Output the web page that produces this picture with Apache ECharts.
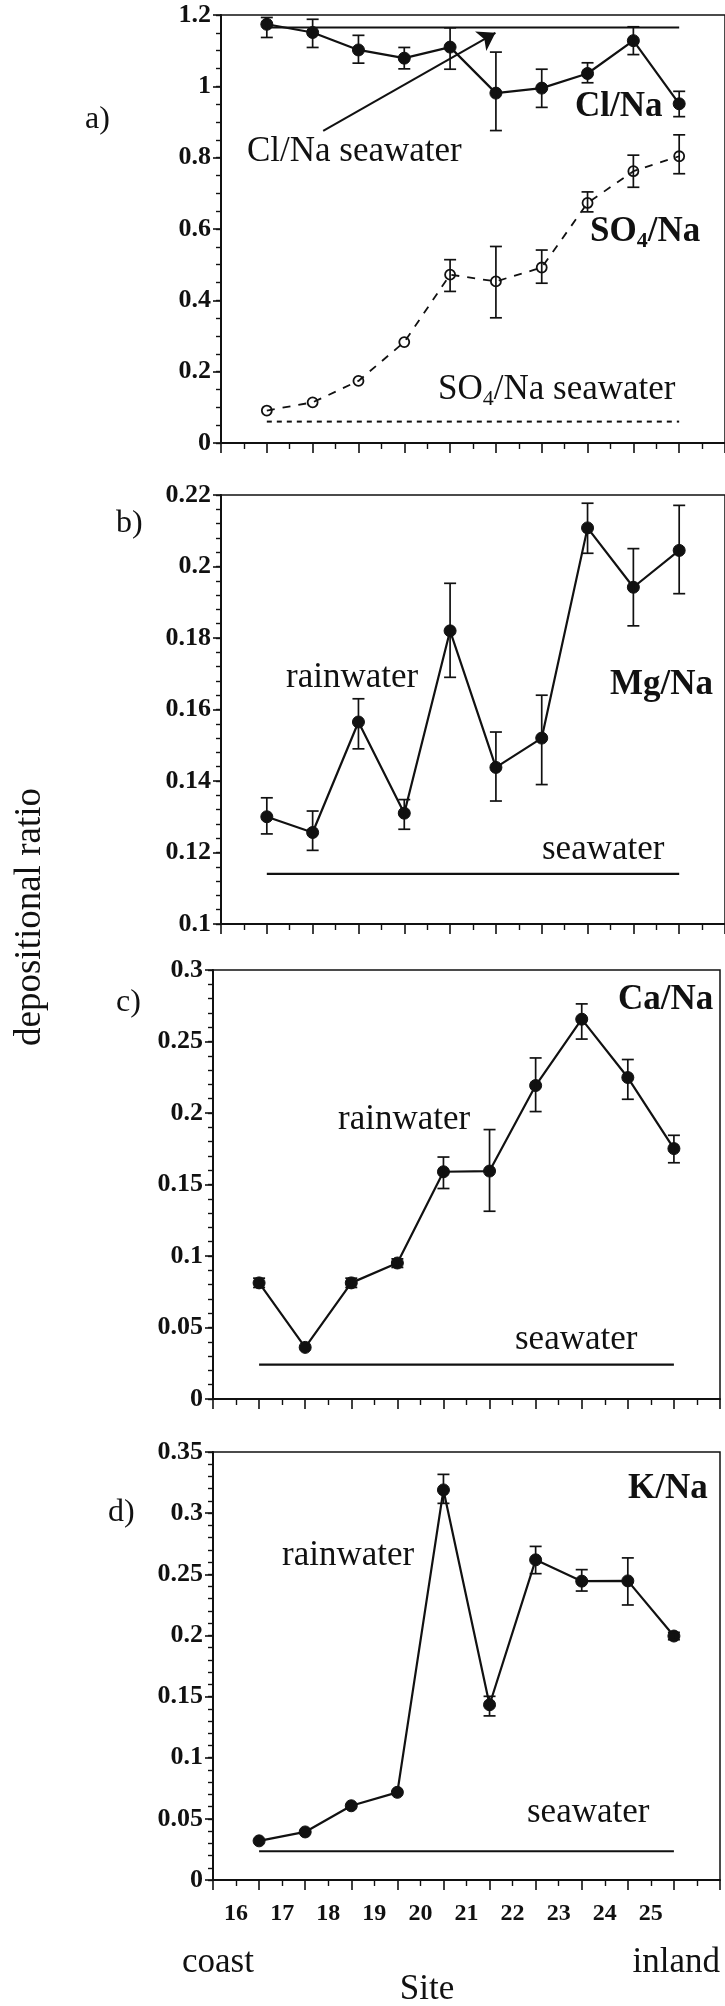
<!DOCTYPE html>
<html>
<head>
<meta charset="utf-8">
<script src="https://cdn.jsdelivr.net/npm/echarts@6/dist/echarts.min.js"></script>
<style>
  html, body { margin: 0; padding: 0; background: #fff; }
  #chart { width: 725px; height: 2006px; }
</style>
</head>
<body>
<div id="chart"></div>
<script>
// Sampling sites, coast (16) to inland (25), placed on axis positions 1..10
const siteLabels = ['16', '17', '18', '19', '20', '21', '22', '23', '24', '25'];
const sitePos = [1, 2, 3, 4, 5, 6, 7, 8, 9, 10];

// a) Cl/Na and SO4/Na depositional ratios with error bars
const clNa     = [1.174, 1.151, 1.102, 1.079, 1.110, 0.981, 0.995, 1.036, 1.128, 0.951];
const clNaLow  = [1.137, 1.109, 1.065, 1.049, 1.048, 0.876, 0.941, 1.010, 1.089, 0.915];
const clNaHigh = [1.193, 1.188, 1.143, 1.109, 1.164, 1.096, 1.048, 1.066, 1.167, 0.986];

const so4Na     = [0.091, 0.114, 0.174, 0.283, 0.472, 0.453, 0.492, 0.673, 0.762, 0.804];
const so4NaLow  = [null, null, null, null, 0.425, 0.351, 0.448, 0.648, 0.717, 0.755];
const so4NaHigh = [null, null, null, null, 0.514, 0.551, 0.541, 0.704, 0.807, 0.864];

// b) Mg/Na
const mgNa     = [0.1300, 0.1256, 0.1565, 0.1310, 0.1820, 0.1438, 0.1520, 0.2108, 0.1942, 0.2045];
const mgNaLow  = [0.1252, 0.1206, 0.1490, 0.1265, 0.1690, 0.1344, 0.1390, 0.2037, 0.1834, 0.1924];
const mgNaHigh = [0.1353, 0.1316, 0.1630, 0.1348, 0.1953, 0.1537, 0.1640, 0.2177, 0.2050, 0.2171];

// c) Ca/Na
const caNa     = [0.0812, 0.0361, 0.0812, 0.0951, 0.1589, 0.1594, 0.2192, 0.2656, 0.2248, 0.1751];
const caNaLow  = [0.0780, null, 0.0780, 0.0920, 0.1472, 0.1313, 0.2010, 0.2517, 0.2096, 0.1652];
const caNaHigh = [0.0845, null, 0.0845, 0.0980, 0.1692, 0.1884, 0.2385, 0.2763, 0.2374, 0.1844];

// d) K/Na
const kNa     = [0.0320, 0.0393, 0.0607, 0.0717, 0.3190, 0.1433, 0.2618, 0.2444, 0.2446, 0.1995];
const kNaLow  = [null, null, null, null, 0.3080, 0.1342, 0.2505, 0.2363, 0.2249, 0.1965];
const kNaHigh = [null, null, null, null, 0.3317, 0.1502, 0.2728, 0.2538, 0.2634, 0.2025];

// Seawater reference ratios
const seawaterClNa = 1.165;
const seawaterSo4Na = 0.06;
const seawaterMgNa = 0.114;
const seawaterCaNa = 0.024;
const seawaterKNa = 0.0235;

// Arrow from the "Cl/Na seawater" label up to its reference line (site axis units, ratio)
const clArrowFrom = [2.23, 0.875];
const clArrowTo = [5.99, 1.15];

const FONT = '"Liberation Serif", "Times New Roman", serif';
const INK = '#111';

// Panel frames and y scales
const panelLayout = [
  { left: 221, top: 15,   height: 428, min: 0,   max: 1.2,  step: 0.2,  minor: 0.05 },
  { left: 221, top: 495,  height: 429, min: 0.1, max: 0.22, step: 0.02, minor: 0.004 },
  { left: 213, top: 970,  height: 429, min: 0,   max: 0.3,  step: 0.05, minor: 0.01 },
  { left: 213, top: 1452, height: 428, min: 0,   max: 0.35, step: 0.05, minor: 0.01 }
];
const GRID_WIDTH = 507;

const grids = panelLayout.map(p => ({
  left: p.left, top: p.top, width: GRID_WIDTH, height: p.height,
  show: true, borderColor: INK, borderWidth: 1.5, backgroundColor: 'transparent'
}));

const xAxes = panelLayout.map((p, i) => ({
  type: 'value', gridIndex: i, min: 0, max: 11, interval: 1,
  axisLine: { show: true, onZero: false, lineStyle: { color: INK, width: 2 } },
  axisTick: { show: true, inside: false, length: 10, lineStyle: { color: INK, width: 1.6 } },
  minorTick: { show: true, splitNumber: 2, length: 6, lineStyle: { color: INK, width: 1.4 } },
  axisLabel: { show: false },
  splitLine: { show: false }
}));
// Site numbers, centred between the ticks of the bottom panel
xAxes.push({
  type: 'category', gridIndex: 3, position: 'bottom',
  data: siteLabels.concat(['']), boundaryGap: true,
  axisLine: { show: false }, axisTick: { show: false }, splitLine: { show: false },
  axisLabel: { show: true, interval: 0, margin: 22, fontFamily: FONT, fontSize: 24,
               fontWeight: 'bold', color: INK }
});

const yAxes = panelLayout.map((p, i) => ({
  type: 'value', gridIndex: i, min: p.min, max: p.max, interval: p.step,
  axisLine: { show: true, onZero: false, lineStyle: { color: INK, width: 2 } },
  axisTick: { show: true, inside: false, length: 8, lineStyle: { color: INK, width: 1.6 } },
  axisLabel: { show: true, margin: 10, fontFamily: FONT, fontSize: 26, fontWeight: 'bold', color: INK },
  splitLine: { show: false }
})).concat(panelLayout.map((p, i) => ({
  // short inward ticks between the labelled ones
  type: 'value', gridIndex: i, min: p.min, max: p.max, interval: p.minor,
  axisLine: { show: false },
  axisTick: { show: true, inside: true, length: 5, lineStyle: { color: INK, width: 1.4 } },
  axisLabel: { show: false },
  splitLine: { show: false }
})));

function errorBarItem(params, api) {
  const x = api.value(0);
  const top = api.coord([x, api.value(2)]);
  const bot = api.coord([x, api.value(1)]);
  const w = 6;
  const st = { stroke: INK, lineWidth: 1.7 };
  return {
    type: 'group',
    children: [
      { type: 'line', shape: { x1: top[0], y1: top[1], x2: bot[0], y2: bot[1] }, style: st },
      { type: 'line', shape: { x1: top[0] - w, y1: top[1], x2: top[0] + w, y2: top[1] }, style: st },
      { type: 'line', shape: { x1: bot[0] - w, y1: bot[1], x2: bot[0] + w, y2: bot[1] }, style: st }
    ]
  };
}

function pointSeries(i, values, extra) {
  return Object.assign({
    type: 'line', xAxisIndex: i, yAxisIndex: i,
    data: sitePos.map((x, k) => [x, values[k]]),
    symbol: 'circle', symbolSize: 12,
    itemStyle: { color: INK, borderColor: INK, borderWidth: 1 },
    lineStyle: { color: INK, width: 2.2 },
    z: 3, silent: true
  }, extra || {});
}

function errorSeries(i, lows, highs) {
  return {
    type: 'custom', xAxisIndex: i, yAxisIndex: i,
    data: sitePos.map((x, k) => [x, lows[k], highs[k]]).filter(d => d[1] != null),
    encode: { x: 0, y: [1, 2] },
    renderItem: errorBarItem, z: 4, silent: true
  };
}

function seawaterSeries(i, v, dashed, extra) {
  return Object.assign({
    type: 'line', xAxisIndex: i, yAxisIndex: i,
    data: [[sitePos[0], v], [sitePos[sitePos.length - 1], v]],
    symbol: 'none', silent: true,
    lineStyle: { color: INK, width: dashed ? 2 : 2.2, type: dashed ? [5, 5] : 'solid' },
    z: 2
  }, extra || {});
}

const series = [
  seawaterSeries(0, seawaterClNa, false, {
    markLine: {
      silent: true, symbol: ['none', 'arrow'], symbolSize: 17,
      label: { show: false },
      lineStyle: { color: INK, width: 2, type: 'solid' },
      data: [[{ coord: clArrowFrom }, { coord: clArrowTo }]]
    }
  }),
  seawaterSeries(0, seawaterSo4Na, true),
  pointSeries(0, clNa),
  errorSeries(0, clNaLow, clNaHigh),
  pointSeries(0, so4Na, {
    symbolSize: 10,
    itemStyle: { color: 'rgba(255,255,255,0)', borderColor: INK, borderWidth: 1.8 },
    lineStyle: { color: INK, width: 1.8, type: [8, 8] }
  }),
  errorSeries(0, so4NaLow, so4NaHigh),

  seawaterSeries(1, seawaterMgNa, false),
  pointSeries(1, mgNa),
  errorSeries(1, mgNaLow, mgNaHigh),

  seawaterSeries(2, seawaterCaNa, false),
  pointSeries(2, caNa),
  errorSeries(2, caNaLow, caNaHigh),

  seawaterSeries(3, seawaterKNa, false),
  pointSeries(3, kNa),
  errorSeries(3, kNaLow, kNaHigh)
];

function txt(text, x, y, size, opts) {
  opts = opts || {};
  return {
    type: 'text', x: x, y: y, silent: true, rotation: opts.rotation || 0,
    style: Object.assign({
      text: text,
      font: (opts.bold ? 'bold ' : '') + size + 'px ' + FONT,
      fill: INK,
      textAlign: opts.align || 'left',
      textVerticalAlign: 'middle'
    }, opts.style || {})
  };
}

function subText(before, sub, after, x, y, size, bold) {
  const w = bold ? 'bold' : 'normal';
  return txt('{m|' + before + '}{s|' + sub + '}{m|' + after + '}', x, y, size, {
    bold: bold,
    style: {
      rich: {
        m: { fontFamily: FONT, fontSize: size, fontWeight: w, fill: INK },
        s: { fontFamily: FONT, fontSize: Math.round(size * 0.62), fontWeight: w, fill: INK,
             padding: [18, 0, 0, 0] }
      }
    }
  });
}

const graphics = [
  txt('a)', 85, 120, 32),
  txt('b)', 116, 524, 32),
  txt('c)', 116, 1003, 32),
  txt('d)', 108, 1513, 32),

  txt('Cl/Na', 575, 107, 35, { bold: true }),
  subText('SO', '4', '/Na', 590, 232, 35, true),
  txt('Cl/Na seawater', 247, 152, 35),
  subText('SO', '4', '/Na seawater', 438, 390, 35, false),

  txt('rainwater', 286, 678, 35),
  txt('Mg/Na', 610, 685, 35, { bold: true }),
  txt('seawater', 542, 850, 35),

  txt('Ca/Na', 618, 1000, 35, { bold: true }),
  txt('rainwater', 338, 1120, 35),
  txt('seawater', 515, 1340, 35),

  txt('K/Na', 628, 1489, 35, { bold: true }),
  txt('rainwater', 282, 1556, 35),
  txt('seawater', 527, 1813, 35),

  txt('coast', 182, 1963, 35),
  txt('inland', 720, 1963, 35, { align: 'right' }),
  txt('Site', 427, 1990, 35, { align: 'center' }),
  txt('depositional ratio', 30, 917, 37, { align: 'center', rotation: Math.PI / 2 })
];

const chart = echarts.init(document.getElementById('chart'), null, { renderer: 'canvas' });
chart.setOption({
  animation: false,
  backgroundColor: '#fff',
  grid: grids,
  xAxis: xAxes,
  yAxis: yAxes,
  series: series,
  graphic: graphics
});
</script>
</body>
</html>
